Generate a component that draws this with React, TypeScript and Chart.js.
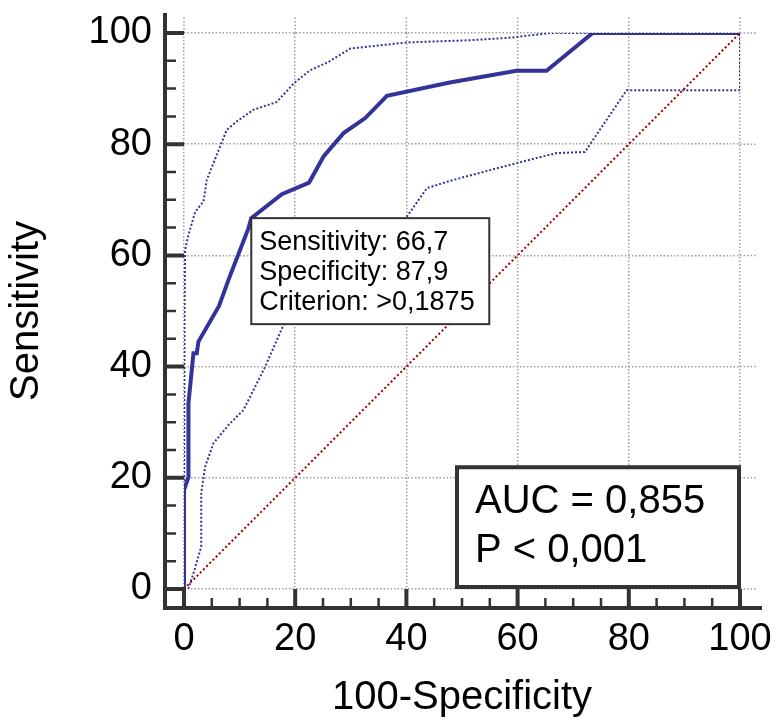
import { useEffect, useRef } from "react";
import { Chart, registerables } from "chart.js";

Chart.register(...registerables);

// ---- data ----
const tickValues = [0, 20, 40, 60, 80, 100];
const minorTickValues = [5, 10, 15, 25, 30, 35, 45, 50, 55, 65, 70, 75, 85, 90, 95];

const rocX = [0, 0, 0.8, 0.8, 1.7, 2.3, 2.6, 6.3, 8.0, 11.6, 12.1, 17.6, 22.5, 25.1, 28.7, 32.6, 36.5, 47.8, 59.8, 65.2, 73.5, 100];
const rocY = [0, 17.8, 20.1, 33.4, 42.4, 42.4, 44.5, 50.9, 55.6, 64.9, 66.7, 71.0, 73.1, 77.8, 82.0, 84.7, 88.7, 91.1, 93.2, 93.2, 100, 100];

const upperX = [0, 0.1, 0.2, 0.8, 2.0, 3.5, 4.1, 5.3, 6.5, 7.7, 9.5, 12.5, 16.7, 19.7, 22.7, 26.0, 29.9, 40.1, 51.4, 59.2, 65.8, 100];
const upperY = [0, 50, 61, 63.7, 67.8, 69.7, 73.6, 76.6, 79.6, 82.6, 84.1, 86.2, 87.6, 90.9, 93.3, 94.8, 97.2, 98.3, 98.7, 99.2, 100, 100];

const lowerX = [0, 0.8, 1.7, 3.1, 3.1, 3.8, 5.3, 8.0, 10.7, 14.6, 17.9, 40.1, 43.7, 47.8, 59.8, 67.0, 72.1, 79.6, 100, 100];
const lowerY = [0, 0.1, 2.8, 7.6, 17.2, 22.0, 26.2, 29.5, 32.2, 40.0, 47.5, 67.0, 72.1, 73.4, 76.6, 78.4, 78.6, 89.7, 89.7, 100];

const diagX = [0, 100];
const diagY = [0, 100];

const criterionPoint = { x: 12.1, y: 66.7 };
const criterionLines = ["Sensitivity: 66,7", "Specificity: 87,9", "Criterion: >0,1875"];
const aucLines = ["AUC = 0,855", "P < 0,001"];

const xTitle = "100-Specificity";
const yTitle = "Sensitivity";

const FONT = "'Liberation Sans', Arial, Helvetica, sans-serif";
const BLUE = "#333399";
const RED = "#990000";
const AXIS = "#333333";
const GRID = "#a0a0a0";

const toPts = (xs: number[], ys: number[]) => xs.map((x, i) => ({ x, y: ys[i] }));

const zeroPad = (s: any) => {
  s.paddingTop = 0;
  s.paddingBottom = 0;
  s.paddingLeft = 0;
  s.paddingRight = 0;
};

export default function App() {
  const ref = useRef<HTMLCanvasElement>(null);

  useEffect(() => {
    const canvas = ref.current;
    if (!canvas) return;

    const decorPlugin = {
      id: "decor",
      beforeDatasetsDraw(chart: any) {
        // grid lines continue a little beyond 100 on both axes
        const { ctx, chartArea } = chart;
        const xs = chart.scales.x;
        const ys = chart.scales.y;
        ctx.save();
        ctx.strokeStyle = GRID;
        ctx.lineWidth = 1.5;
        ctx.setLineDash([1.5, 2]);
        ctx.beginPath();
        tickValues.forEach((v) => {
          const py = ys.getPixelForValue(v);
          ctx.moveTo(chartArea.right, py);
          ctx.lineTo(chartArea.right + 17, py);
          const px = xs.getPixelForValue(v);
          ctx.moveTo(px, chartArea.top);
          ctx.lineTo(px, chartArea.top - 17);
        });
        ctx.stroke();
        ctx.restore();
      },
      afterDatasetsDraw(chart: any) {
        const { ctx } = chart;
        const xs = chart.scales.x;
        const ys = chart.scales.y;
        ctx.save();
        // criterion box
        const cx = xs.getPixelForValue(criterionPoint.x);
        const cy = ys.getPixelForValue(criterionPoint.y);
        ctx.fillStyle = "#ffffff";
        ctx.fillRect(cx, cy, 238, 106);
        ctx.strokeStyle = AXIS;
        ctx.lineWidth = 2;
        ctx.strokeRect(cx, cy, 238, 106);
        ctx.fillStyle = "#000";
        ctx.font = `27px ${FONT}`;
        ctx.textBaseline = "alphabetic";
        ctx.textAlign = "left";
        criterionLines.forEach((t, i) => ctx.fillText(t, cx + 8, cy + 32 + i * 30));

        // AUC box
        const left = xs.getPixelForValue(49.1);
        const top = ys.getPixelForValue(21.9);
        const right = xs.getPixelForValue(100) - 1;
        const bottom = ys.getPixelForValue(0) - 2;
        ctx.fillStyle = "#ffffff";
        ctx.fillRect(left, top, right - left, bottom - top);
        ctx.strokeStyle = AXIS;
        ctx.lineWidth = 4;
        ctx.strokeRect(left, top, right - left, bottom - top);
        ctx.fillStyle = "#000";
        ctx.font = `40px ${FONT}`;
        aucLines.forEach((t, i) => ctx.fillText(t, left + 18, top + 46 + i * 49));
        ctx.restore();
      },
      afterDraw(chart: any) {
        const { ctx, chartArea } = chart;
        const xs = chart.scales.x;
        const ys = chart.scales.y;
        const axisX = chartArea.left - 19;
        const axisY = chartArea.bottom + 19;
        ctx.save();
        ctx.strokeStyle = AXIS;
        ctx.lineCap = "butt";
        // axis lines
        ctx.lineWidth = 4;
        ctx.beginPath();
        ctx.moveTo(axisX, chartArea.top - 20);
        ctx.lineTo(axisX, axisY + 2);
        ctx.moveTo(axisX - 2, axisY);
        ctx.lineTo(chartArea.right + 22, axisY);
        ctx.stroke();
        // major ticks
        ctx.beginPath();
        tickValues.forEach((v) => {
          const py = ys.getPixelForValue(v);
          ctx.moveTo(axisX, py);
          ctx.lineTo(chartArea.left, py);
          const px = xs.getPixelForValue(v);
          ctx.moveTo(px, axisY);
          ctx.lineTo(px, chartArea.bottom);
        });
        ctx.stroke();
        // minor ticks
        ctx.lineWidth = 2.5;
        ctx.beginPath();
        minorTickValues.forEach((v) => {
          const py = ys.getPixelForValue(v);
          ctx.moveTo(axisX, py);
          ctx.lineTo(axisX + 11, py);
          const px = xs.getPixelForValue(v);
          ctx.moveTo(px, axisY);
          ctx.lineTo(px, axisY - 10);
        });
        ctx.stroke();
        ctx.restore();
      },
    };

    const gridCfg = {
      color: GRID,
      lineWidth: 1.5,
      drawTicks: false,
    };
    const borderCfg = { display: false, dash: [1.5, 2] };

    const chart = new Chart(canvas, {
      type: "scatter",
      data: {
        datasets: [
          {
            label: "Reference",
            data: toPts(diagX, diagY),
            showLine: true,
            borderColor: RED,
            borderWidth: 2,
            borderDash: [2, 2.5],
            pointRadius: 0,
          },
          {
            label: "Upper CI",
            data: toPts(upperX, upperY),
            showLine: true,
            borderColor: BLUE,
            borderWidth: 2,
            borderDash: [2, 2],
            pointRadius: 0,
          },
          {
            label: "Lower CI",
            data: toPts(lowerX, lowerY),
            showLine: true,
            borderColor: BLUE,
            borderWidth: 2,
            borderDash: [2, 2],
            pointRadius: 0,
          },
          {
            label: "ROC",
            data: toPts(rocX, rocY),
            showLine: true,
            borderColor: BLUE,
            borderWidth: 4,
            pointRadius: 0,
          },
        ],
      },
      options: {
        responsive: false,
        animation: false,
        devicePixelRatio: 1,
        layout: { padding: { top: 33, right: 38, left: 0, bottom: 0 } },
        plugins: { legend: { display: false }, tooltip: { enabled: false } },
        scales: {
          x: {
            type: "linear",
            position: "bottom",
            min: 0,
            max: 100,
            afterFit: (s: any) => {
              s.height = 131;
              zeroPad(s);
            },
            ticks: {
              stepSize: 20,
              padding: 28,
              color: "#000",
              font: { family: FONT, size: 38 },
              autoSkip: false,
              maxRotation: 0,
            },
            grid: gridCfg,
            border: borderCfg,
            title: {
              display: true,
              text: xTitle,
              color: "#000",
              font: { family: FONT, size: 40, lineHeight: 1.1 },
              padding: { top: 0, bottom: 0 },
            },
          },
          y: {
            type: "linear",
            position: "left",
            min: 0,
            max: 100,
            afterFit: (s: any) => {
              s.width = 184;
              zeroPad(s);
            },
            ticks: {
              stepSize: 20,
              padding: 32,
              color: "#000",
              font: { family: FONT, size: 38 },
              autoSkip: false,
            },
            grid: gridCfg,
            border: borderCfg,
            title: {
              display: true,
              text: yTitle,
              color: "#000",
              font: { family: FONT, size: 40, lineHeight: 1.1 },
              padding: { top: 5, bottom: 0 },
            },
          },
        },
      },
      plugins: [decorPlugin],
    } as any);

    return () => chart.destroy();
  }, []);

  return (
    <div style={{ position: "absolute", left: 0, top: 0, width: 778, height: 720, background: "#fff" }}>
      <canvas ref={ref} width={778} height={720} style={{ display: "block" }} />
    </div>
  );
}
